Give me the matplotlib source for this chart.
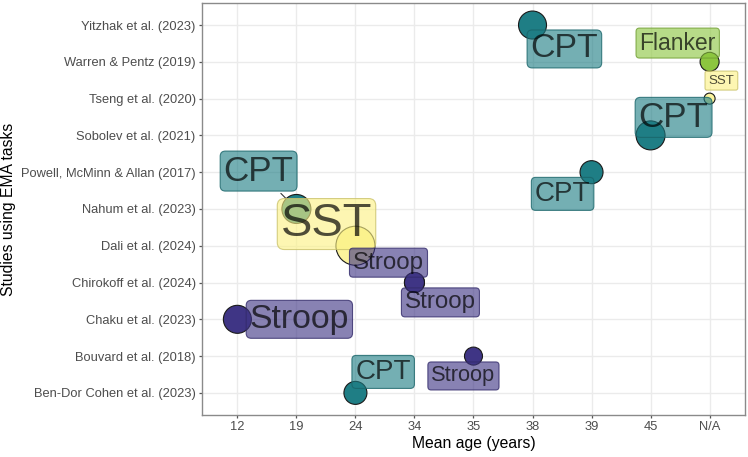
import numpy as np
import matplotlib.pyplot as plt

plt.rcParams['font.family'] = ['Liberation Sans', 'DejaVu Sans']

studies = ["Ben-Dor Cohen et al. (2023)", "Bouvard et al. (2018)", "Chaku et al. (2023)",
           "Chirokoff et al. (2024)", "Dali et al. (2024)", "Nahum et al. (2023)",
           "Powell, McMinn & Allan (2017)", "Sobolev et al. (2021)", "Tseng et al. (2020)",
           "Warren & Pentz (2019)", "Yitzhak et al. (2023)"]
age_levels = ["12", "19", "24", "34", "35", "38", "39", "45", "N/A"]

# one row per study/task
row_study = ["Yitzhak et al. (2023)", "Warren & Pentz (2019)", "Tseng et al. (2020)",
             "Sobolev et al. (2021)", "Powell, McMinn & Allan (2017)", "Nahum et al. (2023)",
             "Dali et al. (2024)", "Chirokoff et al. (2024)", "Chirokoff et al. (2024)",
             "Chaku et al. (2023)", "Bouvard et al. (2018)", "Ben-Dor Cohen et al. (2023)"]
row_age = ["38", "N/A", "N/A", "45", "39", "19", "24", "34", "34", "12", "35", "24"]
row_task = ["CPT", "Flanker", "SST", "CPT", "CPT", "CPT", "SST", "Stroop", "Stroop",
            "Stroop", "Stroop", "CPT"]
row_size = [28, 19, 11, 29, 23, 29, 39, 20, 20, 28, 18, 23]

# label placement (repel result), offsets in axis units
label_dx = [0.54, -0.54, 0.20, 0.39, -0.49, -0.64, -0.49, -0.44, 0.44, 1.05, -0.17, 0.47]
label_dy = [-0.65, 0.51, 0.49, 0.49, -0.59, 1.03, 0.59, 0.54, -0.54, 0.0, -0.54, 0.57]
label_segment = [False, False, False, False, False, True, False, False, False, False, False, False]

task_colors = {"CPT": "#1f7e85", "Stroop": "#3f3585", "Flanker": "#8cc63f", "SST": "#fcf284"}
point_colors = {"CPT": "#1f7e85", "Stroop": "#3f3585", "Flanker": "#8cc63f", "SST": "#fbf39c"}

fig = plt.figure(figsize=(7.48, 4.57), dpi=100)
ax = fig.add_axes([0.270, 0.092, 0.726, 0.9015])

xs = np.array([age_levels.index(a) for a in row_age])
ys = np.array([studies.index(s) for s in row_study])
sizes = np.array(row_size, dtype=float)
cols = [point_colors[t] for t in row_task]

ax.scatter(xs, ys, s=(sizes * 0.72) ** 2, c=cols, edgecolors="#1a1a1a",
           linewidths=0.8, zorder=3)

for i in range(len(row_task)):
    fs = sizes[i] * 0.87
    lx = xs[i] + label_dx[i]
    ly = ys[i] + label_dy[i]
    pad_px = 3.5
    if label_segment[i]:
        ax.annotate("", xy=(xs[i], ys[i]), xytext=(lx, ly),
                    arrowprops=dict(arrowstyle="-", color="#333333", lw=0.8,
                                    shrinkA=fs * 0.9, shrinkB=sizes[i] * 0.36),
                    zorder=2)
    ax.text(lx, ly, row_task[i], fontsize=fs, ha="center", va="center",
            color="#000000b0", zorder=4,
            bbox=dict(boxstyle="round,pad=%.3f,rounding_size=0.15" % (pad_px / (fs * 100 / 72)),
                      facecolor=task_colors[row_task[i]],
                      edgecolor=task_colors[row_task[i]], linewidth=0.8))

# make label boxes semi-transparent
for t in ax.texts:
    bp = t.get_bbox_patch()
    if bp is not None:
        fc = bp.get_facecolor()
        bp.set_facecolor((fc[0], fc[1], fc[2], 0.62))
        bp.set_edgecolor((fc[0] * 0.8, fc[1] * 0.8, fc[2] * 0.8, 0.8))

ax.set_xlim(-0.6, len(age_levels) - 1 + 0.6)
ax.set_ylim(-0.6, len(studies) - 1 + 0.6)
ax.set_xticks(range(len(age_levels)))
ax.set_xticklabels(age_levels)
ax.set_yticks(range(len(studies)))
ax.set_yticklabels(studies)

ax.grid(True, color="#ebebeb", linewidth=1.0, zorder=0)
ax.set_axisbelow(True)
for sp in ax.spines.values():
    sp.set_color("#8a8a8a")
    sp.set_linewidth(1.0)
ax.tick_params(axis="both", length=2.5, width=0.9, color="#555555",
               labelcolor="#4d4d4d", labelsize=9.3, pad=2)

ax.set_xlabel("Mean age (years)", fontsize=11.3, color="black", labelpad=2)
ax.set_ylabel("Studies using EMA tasks", fontsize=11.3, color="black", labelpad=4)

fig.savefig("out.png", dpi=100)
